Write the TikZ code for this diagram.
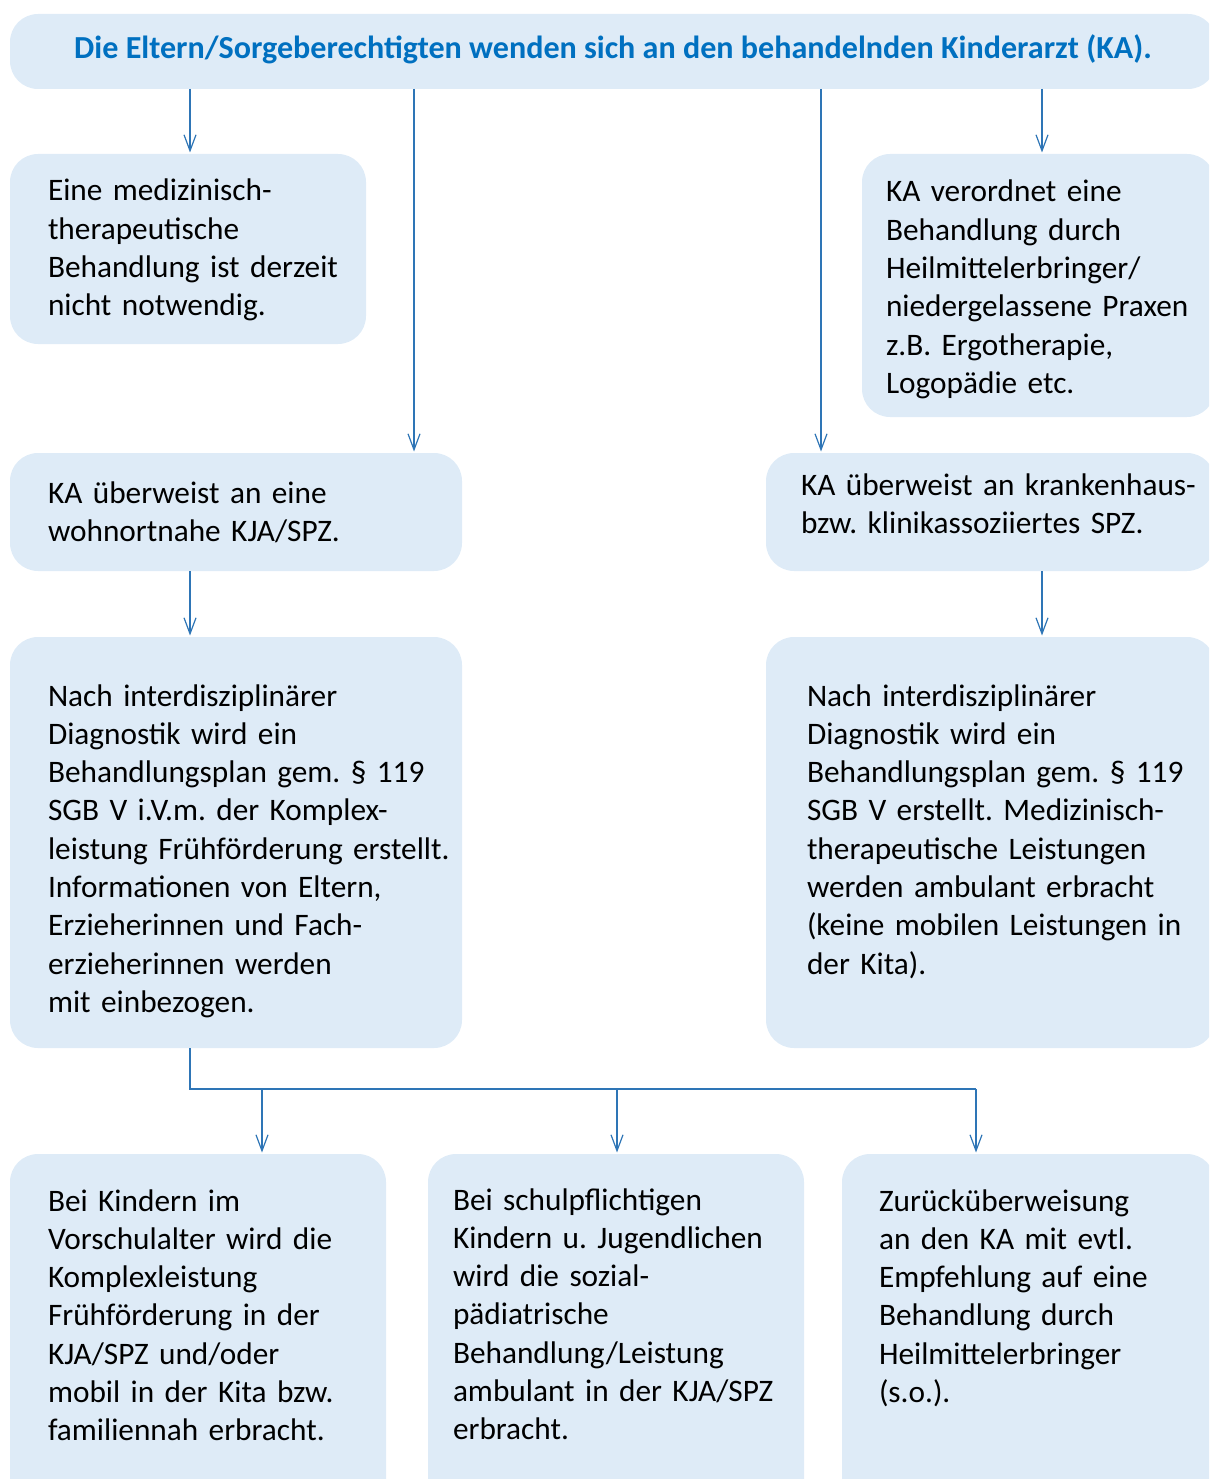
\documentclass[tikz,border=0pt]{standalone}
\usepackage{fontspec}
\setmainfont{Carlito}
\usetikzlibrary{arrows.meta}
\definecolor{boxfill}{RGB}{222,235,247}
\definecolor{lineblue}{RGB}{46,117,182}
\definecolor{titleblue}{RGB}{0,112,192}
\frenchspacing
\begin{document}
\begin{tikzpicture}[x=1pt,y=-1pt,
  box/.style={fill=boxfill, draw=none, rounded corners=28pt, anchor=north west, inner sep=0pt, outer sep=0pt},
  txt/.style={anchor=base west, inner sep=0pt, outer sep=0pt, align=left, text width=520pt,
    font=\fontsize{31.3}{38.3}\selectfont\frenchspacing},
  arr/.style={draw=lineblue, line width=1.4pt, shorten >=1.5pt,
    -{Straight Barb[length=16pt,width=12pt,line width=1.2pt]}},
  ln/.style={draw=lineblue, line width=1.4pt}]
\useasboundingbox (0,0) rectangle (1209,1479);
\clip (0,0) rectangle (1209,1479);

% boxes
\node[box, minimum width=1206pt, minimum height=75pt, anchor=north west,
  text height=22pt, text depth=7pt, text=titleblue,
  font=\fontsize{32.1}{38.3}\selectfont\bfseries\frenchspacing] (top) at (10,14)
  {Die Eltern/Sorgeberechtigten wenden sich an den behandelnden Kinderarzt (KA).};
\node[box, minimum width=356pt, minimum height=190pt] (b1) at (10,154) {};
\node[box, minimum width=353pt, minimum height=263pt] (b2) at (862,154) {};
\node[box, minimum width=452pt, minimum height=118pt] (b3) at (10,453) {};
\node[box, minimum width=449pt, minimum height=118pt] (b4) at (766,453) {};
\node[box, minimum width=452pt, minimum height=411pt] (b5) at (10,637) {};
\node[box, minimum width=449pt, minimum height=411pt] (b6) at (766,637) {};
\node[box, minimum width=376pt, minimum height=360pt] (b7) at (10,1154) {};
\node[box, minimum width=376pt, minimum height=360pt] (b8) at (428,1154) {};
\node[box, minimum width=373pt, minimum height=360pt] (b9) at (842,1154) {};

% texts
\node[txt] (t1) at (48,201) {Eine medizinisch-\\therapeutische\\Behandlung ist derzeit\\nicht notwendig.};
\node[txt] (t2) at (886,202) {KA verordnet eine\\Behandlung durch\\Heilmittelerbringer/\\niedergelassene Praxen\\z.B. Ergotherapie,\\Logopädie etc.};
\node[txt] (t3) at (48,503) {KA überweist an eine\\wohnortnahe KJA/SPZ.};
\node[txt] (t4) at (801,495) {KA überweist an krankenhaus-\\bzw. klinikassoziiertes SPZ.};
\node[txt] (t5) at (48,706) {Nach interdisziplinärer\\Diagnostik wird ein\\Behandlungsplan gem. § 119\\SGB V i.V.m. der Komplex-\\leistung Frühförderung erstellt.\\Informationen von Eltern,\\Erzieherinnen und Fach-\\erzieherinnen werden\\mit einbezogen.};
\node[txt] (t6) at (807,706) {Nach interdisziplinärer\\Diagnostik wird ein\\Behandlungsplan gem. § 119\\SGB V erstellt. Medizinisch-\\therapeutische Leistungen\\werden ambulant erbracht\\(keine mobilen Leistungen in\\der Kita).};
\node[txt] (t7) at (48,1211) {Bei Kindern im\\Vorschulalter wird die\\Komplexleistung\\Frühförderung in der\\KJA/SPZ und/oder\\mobil in der Kita bzw.\\familiennah erbracht.};
\node[txt] (t8) at (453,1210) {Bei schulpflichtigen\\Kindern u. Jugendlichen\\wird die sozial-\\pädiatrische\\Behandlung/Leistung\\ambulant in der KJA/SPZ\\erbracht.};
\node[txt] (t9) at (879,1211) {Zurücküberweisung\\an den KA mit evtl.\\Empfehlung auf eine\\Behandlung durch\\Heilmittelerbringer\\(s.o.).};

% reference columns / rows for connectors
\coordinate (cA) at (190,0);
\coordinate (cB) at (414,0);
\coordinate (cC) at (821,0);
\coordinate (cD) at (1042,0);
\coordinate (cE) at (262,0);
\coordinate (cF) at (617,0);
\coordinate (cG) at (976,0);
\coordinate (hY) at (0,1089);

% connectors
\draw[arr] (top.south -| cA) -- (b1.north -| cA);
\draw[arr] (top.south -| cB) -- (b3.north -| cB);
\draw[arr] (top.south -| cC) -- (b4.north -| cC);
\draw[arr] (top.south -| cD) -- (b2.north -| cD);
\draw[arr] (b3.south -| cA) -- (b5.north -| cA);
\draw[arr] (b4.south -| cD) -- (b6.north -| cD);
\draw[ln] (b5.south -| cA) -- (hY -| cA) -- (hY -| cG);
\draw[arr] (hY -| cE) -- (b7.north -| cE);
\draw[arr] (hY -| cF) -- (b8.north -| cF);
\draw[arr] (hY -| cG) -- (b9.north -| cG);
\end{tikzpicture}
\end{document}
